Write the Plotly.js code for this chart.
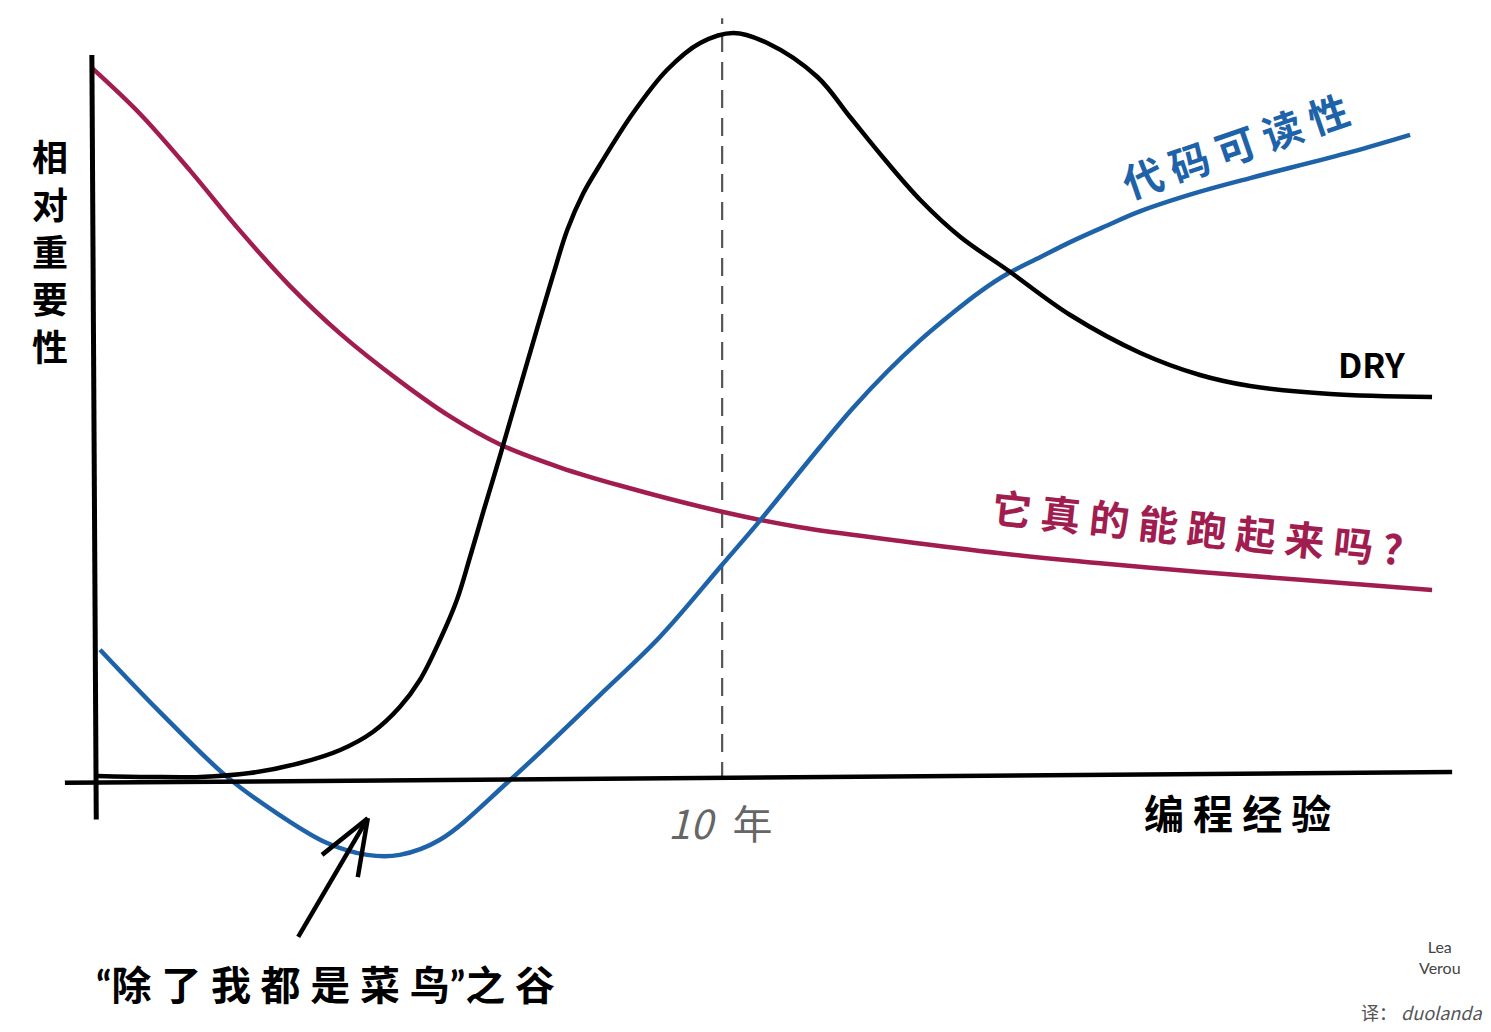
<!DOCTYPE html>
<html>
<head>
<meta charset="utf-8">
<script src="https://cdn.plot.ly/plotly-3.0.1.min.js"></script>
<style>html,body{margin:0;padding:0;background:#fff;}#chart{width:1491px;height:1032px;}</style>
</head>
<body>
<div id="chart"></div>
<script>
// Experience in years (x) and relative importance (y)
const redYears = [-0.05, 0.72, 1.52, 2.31, 3.11, 3.91, 4.86, 5.66, 6.46, 7.42, 8.37, 10.0, 11.24, 12.84, 14.43, 16.03, 17.62, 19.22, 21.32];
const redValues = [98.9, 92.5, 84.6, 76.3, 68.6, 62.0, 55.4, 50.5, 46.6, 43.4, 40.9, 37.25, 35.1, 33.2, 31.5, 30.1, 28.9, 27.8, 26.4];

const dryYears = [0.03, 0.88, 1.68, 2.47, 3.27, 3.91, 4.43, 4.86, 5.18, 5.50, 5.77, 5.98, 6.20, 6.41, 6.62, 6.89, 7.10, 7.31, 7.53, 7.78, 8.05, 8.58, 9.12, 9.65, 10.18, 10.72, 11.52, 12.04, 12.60, 13.16, 13.80, 14.55, 15.55, 16.67, 17.62, 18.42, 19.70, 21.32];
const dryValues = [0.56, 0.42, 0.42, 0.97, 2.36, 4.17, 6.67, 10.14, 13.89, 19.44, 25.0, 30.97, 37.5, 43.61, 49.86, 57.92, 64.17, 70.28, 76.39, 81.39, 85.42, 92.64, 98.61, 102.36, 103.75, 102.36, 97.64, 92.08, 86.11, 80.56, 75.42, 70.83, 64.58, 59.31, 56.25, 54.72, 53.61, 53.19];

const blueYears = [0.08, 1.04, 2.11, 2.95, 3.70, 4.34, 4.86, 5.50, 6.62, 8.05, 9.01, 10.0, 10.61, 11.56, 12.09, 12.63, 13.16, 13.68, 14.11, 14.55, 15.07, 15.55, 16.11, 16.67, 17.54, 18.42, 20.02, 20.97];
const blueValues = [18.1, 9.4, 0.4, -4.9, -8.75, -10.4, -10.4, -8.3, 0, 11.8, 19.9, 29.9, 36.1, 46.25, 51.7, 56.7, 61.1, 64.9, 67.8, 70.3, 72.6, 74.7, 76.9, 79.0, 81.5, 83.6, 87.2, 89.6];

const seriesNames = ['它真的能跑起来吗?', 'DRY', '代码可读性'];
const markerYear = 10;
const markerLabel = ['10', '年'];
const xTitle = '编程经验';
const yTitle = '相对重要性';
const valleyLabel = ['“', '除了我都是菜鸟', '”', '之谷'];

const RED = '#a11d4f', BLUE = '#1e63a9';
const CJK = '"Noto Sans CJK SC", sans-serif';
const MIX = 'Lato, "Noto Sans CJK SC", sans-serif';
const spaced = s => s.split('').join(' ');

const traces = [
  {x: redYears, y: redValues, name: seriesNames[0], mode: 'lines',
   line: {color: RED, width: 4.5, shape: 'spline', smoothing: 1}},
  {x: blueYears, y: blueValues, name: seriesNames[2], mode: 'lines',
   line: {color: BLUE, width: 4.5, shape: 'spline', smoothing: 1}},
  {x: dryYears, y: dryValues, name: seriesNames[1], mode: 'lines',
   line: {color: '#000', width: 4.5, shape: 'spline', smoothing: 1}}
];

const annotations = [];
yTitle.split('').forEach((ch, i) => {
  annotations.push({xref: 'paper', yref: 'paper', x: 50/1491, y: 1 - (155 + i * 47.5)/1032,
    xanchor: 'center', yanchor: 'middle', text: ch, showarrow: false,
    font: {family: CJK, size: 36, color: '#000', weight: 'bold'}});
});
annotations.push(
  {x: 18.21, y: -4.44, text: spaced(xTitle), showarrow: false, xanchor: 'center', yanchor: 'middle',
   font: {family: CJK, size: 40, color: '#000', weight: 'bold'}},
  {x: markerYear - 0.03, y: -5.9, text: '<i>' + markerLabel[0] + '</i>\u2002' + markerLabel[1], showarrow: false,
   xanchor: 'center', yanchor: 'middle', font: {family: CJK, size: 40, color: '#666'}},
  {x: 20.35, y: 57.9, text: seriesNames[1], showarrow: false, xanchor: 'center', yanchor: 'middle',
   font: {family: CJK, size: 34, color: '#000', weight: 'bold'}},
  {x: 18.18, y: 88.2, text: spaced(seriesNames[2]), showarrow: false, textangle: -19,
   xanchor: 'center', yanchor: 'middle', font: {family: CJK, size: 40, color: BLUE, weight: 'bold'}},
  {x: 17.58, y: 35.1, text: spaced(seriesNames[0]), showarrow: false, textangle: 6,
   xanchor: 'center', yanchor: 'middle', font: {family: CJK, size: 40, color: RED, weight: 'bold'}},
  {x: 3.67, y: -28.5, text: valleyLabel[0] + spaced(valleyLabel[1]) + valleyLabel[2] + spaced(valleyLabel[3]),
   showarrow: false, xanchor: 'center', yanchor: 'middle',
   font: {family: MIX, size: 40, color: '#000', weight: 'bold'}},
  {xref: 'paper', yref: 'paper', x: 1440/1491, y: 1 - 957/1032, xanchor: 'center', yanchor: 'middle',
   text: 'Lea<br>Verou', showarrow: false, font: {family: 'Lato, sans-serif', size: 16, color: '#444'}},
  {xref: 'paper', yref: 'paper', x: 1421/1491, y: 1 - 1012/1032, xanchor: 'center', yanchor: 'middle',
   text: '译： <i>duolanda</i>', showarrow: false, font: {family: CJK, size: 18, color: '#555'}}
);

const layout = {
  width: 1491, height: 1032,
  margin: {l: 0, r: 0, t: 0, b: 0},
  paper_bgcolor: '#fff', plot_bgcolor: '#fff',
  showlegend: false,
  xaxis: {range: [-1.515, 22.26], visible: false, fixedrange: true},
  yaxis: {range: [-35, 108.33], visible: false, fixedrange: true},
  shapes: [
    {type: 'line', x0: markerYear, x1: markerYear, y0: 0, y1: 105.8, layer: 'below',
     line: {color: '#555', width: 2.2, dash: '18px,10px'}},
    {type: 'line', x0: -0.48, x1: 21.64, y0: -0.4, y1: 1.1, line: {color: '#000', width: 4.5}},
    {type: 'line', x0: -0.05, x1: 0.02, y0: 100.7, y1: -5.5, line: {color: '#000', width: 5}},
    {type: 'line', x0: 3.24, y0: -21.8, x1: 4.35, y1: -5.3, line: {color: '#000', width: 4.5}},
    {type: 'line', x0: 3.62, y0: -10.4, x1: 4.35, y1: -5.3, line: {color: '#000', width: 4.5}},
    {type: 'line', x0: 4.19, y0: -13.5, x1: 4.35, y1: -5.3, line: {color: '#000', width: 4.5}}
  ],
  annotations: annotations
};

Plotly.newPlot('chart', traces, layout, {staticPlot: true, displayModeBar: false});
</script>
</body>
</html>
